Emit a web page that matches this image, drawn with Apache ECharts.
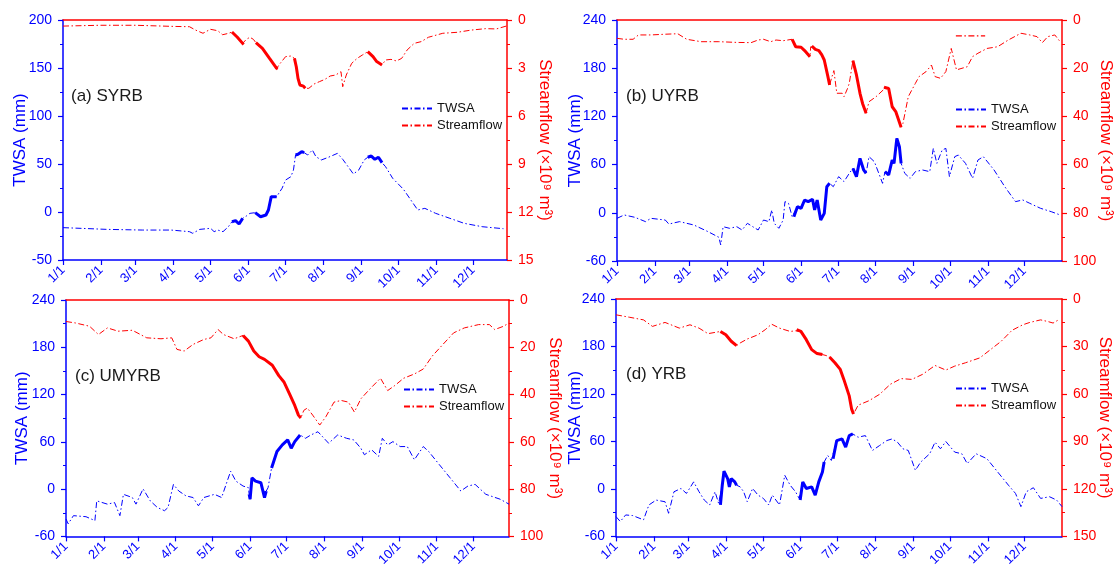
<!DOCTYPE html>
<html>
<head>
<meta charset="utf-8">
<script src="https://cdn.jsdelivr.net/npm/echarts@6/dist/echarts.min.js"></script>
<style>
html,body{margin:0;padding:0;background:#fff;}
#chart{width:1118px;height:569px;}
</style>
</head>
<body>
<div id="chart"></div>
<script>
// ---------- tick labels ----------
const monthDays = [0, 31, 59, 90, 120, 151, 181, 212, 243, 273, 304, 334];
const monthLabels = ['1/1','2/1','3/1','4/1','5/1','6/1','7/1','8/1','9/1','10/1','11/1','12/1'];
const panelTitles = ['(a) SYRB', '(b) UYRB', '(c) UMYRB', '(d) YRB'];
const seriesNames = ['TWSA', 'Streamflow'];

// ---------- (a) SYRB ----------
const syrbFlow = [[0,0.38],[30,0.33],[59,0.33],[90,0.40],[103,0.42],[108,0.63],[114,0.83],[120,0.58],[126,0.67],[130,0.92],[135,0.83],[137.6,0.75],[142,1.08],[146.3,1.46],[147.2,1.52],[149.3,1.21],[152.2,1.08],[155.1,1.21],[157.1,1.42],[162.4,1.77],[168.2,2.40],[174,3.02],[174.9,3.06],[176.9,2.71],[181.3,2.29],[185.6,2.25],[188.5,2.40],[190,2.92],[191.4,3.65],[192.9,4.06],[195.8,4.13],[197.3,4.27],[200.2,4.27],[204.5,4.0],[208.9,3.85],[213.3,3.71],[217.6,3.5],[222,3.44],[226.4,3.23],[227.8,4.17],[230.7,3.44],[235.1,2.71],[239.5,2.40],[243.8,2.19],[248.2,1.98],[252.5,2.29],[255.5,2.60],[259.8,2.81],[262.7,2.5],[267.1,2.46],[271.5,2.56],[275.8,2.40],[280.2,1.88],[286,1.46],[291.8,1.35],[297.6,1.08],[309.3,0.83],[320.9,0.77],[332.6,0.63],[344.2,0.54],[352.9,0.56],[361,0.38]];
const syrbFlowBold = [[137.6,147.2],[157.1,174.9],[188.5,197.3],[248.2,259.8]];
const syrbTwsa = [[0,-16.3],[36,-18.1],[65,-18.8],[88,-18.8],[103,-20.5],[105.6,-22.2],[111.4,-18.1],[120.2,-17],[123.1,-20.5],[126,-18.8],[130.3,-20.5],[134.7,-15.3],[137.6,-10.1],[140.5,-9],[143.4,-12.5],[146.3,-6.6],[149.3,-4.2],[152.2,-1.4],[156.5,-0.7],[160.9,-4.9],[165.3,-3.1],[167.3,2.1],[169.6,16],[174,16],[178.4,24.7],[181.3,33.3],[185.6,36.8],[187.7,43.8],[189.4,59.4],[191.4,60.1],[194.4,62.8],[196.4,61.8],[199.3,59.4],[203.1,64.6],[206,57.6],[210.4,54.2],[216.2,57],[223.5,61.1],[227.8,54.9],[232.2,47.2],[236.5,39.6],[240.9,43.8],[245.3,54.2],[248.2,57],[251.1,58.3],[254,54.9],[256.9,57],[259.8,51.4],[262.7,47.2],[268.5,35.1],[277.3,23.6],[288.9,2.1],[294.7,3.8],[303.5,-1.4],[315.1,-6.6],[326.7,-11.8],[341.3,-15.3],[358.7,-17.4]];
const syrbTwsaBold = [[137.6,146.3],[156.5,174],[189.4,196.4],[248.2,259.8]];

// ---------- (b) UYRB ----------
const uyrbFlow = [[0,7.6],[5.9,8.0],[13.2,8.0],[17.6,6.2],[27.8,6.2],[39.6,5.9],[49.8,5.7],[57.1,8.0],[68.9,9.0],[83.5,9.0],[98.2,9.3],[109.9,9.4],[115.7,8.3],[120.1,8.0],[126,9.0],[130.4,8.3],[136.2,8.6],[143.6,8.0],[146.5,11.1],[150.9,11.3],[153.8,12.7],[158.2,15.2],[158.8,11.1],[159.7,10.8],[162.6,12.2],[165.5,12.7],[167.9,14.5],[169.9,16.6],[172.9,23.5],[174.3,27],[175.8,24.2],[177.8,21],[180.2,30.4],[184.6,30.4],[186.1,31.8],[189,28.4],[190.4,26.3],[193.4,16.9],[196.3,22.8],[199.2,30.4],[201.3,34.6],[204.2,38.7],[206.6,33.9],[212.4,31.8],[218.3,29],[218.9,27.9],[222.7,28.4],[225.6,36],[228.5,38],[232.9,44.5],[234.4,42.9],[238.8,31.8],[244.6,26.3],[247.6,23.5],[253.4,21.4],[257.8,18.7],[260.8,23.5],[265.2,24.2],[269.6,21.4],[274,11.8],[278.3,20.7],[287.1,19.4],[291.5,15.2],[295.9,13.8],[303.3,11.8],[312,11.1],[320.8,8.3],[331.1,5.5],[338.4,6.2],[344.3,6.9],[348.7,9.4],[353.1,6.9],[358.9,6.2],[363.3,9.0]];
const uyrbFlowBold = [[143.6,158.2],[159.7,174.3],[193.4,204.2],[218.9,232.9]];
const uyrbFlowStray = [[277.8,6.6],[301.8,6.6]];
const uyrbTwsa = [[0,-6.9],[5.9,-2.7],[14.6,-5.6],[23.4,-11],[27.8,-6.9],[39.6,-9],[42.5,-14],[51.3,-11],[63,-15.2],[74.7,-23.5],[83.5,-30.5],[85,-40],[87,-17.3],[92.3,-19.3],[98.2,-17.3],[102.5,-21.4],[106.9,-13.1],[111.3,-17.3],[115.7,-21.4],[120.1,-9],[124.5,-11],[126.9,3.5],[128.9,-13.1],[132.7,-19.3],[136.2,-9],[137.7,13.9],[140.6,11.8],[143.6,-4.8],[145,-4.8],[147.9,7.6],[150.9,5.6],[153.8,15.9],[156.8,13.9],[160.3,16.8],[162,3.5],[164.1,15.9],[167,-9],[169.9,-0.7],[172,32.5],[174.3,36.7],[177.3,32.5],[181.7,45],[186.1,38.8],[190.4,49.1],[193.4,55.4],[196.3,45],[199.2,67.8],[202.2,53.3],[204.2,49.1],[206.6,69.9],[211,63.6],[217.7,36.7],[219.7,51.2],[222.7,47.1],[225.6,65.7],[227.1,61.6],[229.4,92.7],[231.5,82.3],[232.9,61.6],[235.9,49.1],[240.3,42.9],[244.6,51.2],[250.5,53.3],[256.4,51.2],[259.3,80.2],[262.2,61.6],[266.6,78.2],[269.6,80.2],[272.5,45],[276.9,69.9],[279.8,71.9],[285.7,61.6],[291.5,42.9],[295.9,65.7],[300.3,69.9],[309.1,53.3],[317.9,32.5],[326.7,13.9],[332.6,16],[338.4,11.8],[347.2,5.6],[356,1.4],[363.3,-2.7]];
const uyrbTwsaBold = [[145,174.3],[193.4,204.2],[219.7,232.9]];

// ---------- (c) UMYRB ----------
const umyrbFlow = [[0,9.1],[7.6,9.7],[19.3,11.1],[26.6,14.6],[34,11.8],[42.7,13.2],[54.4,12.8],[66.2,16],[77.9,16.4],[86.7,16],[91,20.9],[96.9,21.6],[104.2,18.8],[113,16.7],[118.9,16],[124.7,12.5],[129.1,14.6],[137.9,16.4],[145.2,15],[149.6,17.4],[154,21.6],[158.4,24],[162.8,25.1],[169.2,27.6],[174.5,32],[178.9,34.8],[183.3,39.7],[187.6,44.6],[190.6,48.7],[192.6,49.9],[195,46.7],[197.9,45.7],[202.3,48.7],[208.1,52.9],[213.1,49.4],[219.8,43.2],[225.7,42.5],[231.6,43.2],[236.5,47.4],[241.8,41.8],[250.6,36.9],[257.9,33.1],[263.8,38.3],[269.6,36.2],[276.9,33.1],[285.7,31.3],[293,29.2],[300.4,23.7],[309.1,18.8],[317.9,13.9],[326.7,11.8],[338.4,10.4],[347.2,10.4],[351.6,12.5],[358.9,11.1],[363.3,9.7]];
const umyrbFlowBold = [[145.2,192.6]];
const umyrbTwsa = [[0,-37.9],[1.8,-44.1],[6.1,-33.7],[16.4,-35],[23.7,-40],[25.2,-14.9],[34,-19.1],[39.8,-17],[44.2,-33.7],[47.1,-6.6],[54.4,-10.7],[57.4,-19.1],[63.2,0.3],[69.1,-14.9],[74.9,-23.3],[80.8,-27.4],[83.7,-23.3],[88.1,6],[92.5,-2.4],[98.4,-8.6],[104.2,-10.7],[108.6,-21.2],[113,-10.7],[121.8,-6.6],[127.6,-10.7],[135,22.7],[139.3,10.2],[145.2,3.9],[149.6,1.8],[150.2,-6.6],[151,-12.8],[152.5,14.3],[155.4,10.2],[159.8,8.1],[162.8,-10.7],[164.2,-2.4],[165.7,1.8],[168.6,26.9],[173,47.8],[177.4,56.1],[181.8,62.4],[184.7,51.9],[187.6,60.3],[192,68.7],[196.4,64.5],[200.8,68.7],[206.6,72.8],[215.4,58.2],[222.8,68.7],[230.1,64.5],[236,62.4],[241.8,51.9],[244.7,43.6],[250.6,49.9],[256.4,41.5],[259.4,64.5],[263.8,56.1],[268.1,60.3],[274,54],[279.9,54],[285.7,37.3],[293,54],[297.4,47.8],[306.2,31],[315,14.3],[323.8,-2.4],[329.6,3.9],[335.5,6],[344.3,-6.6],[356,-12.8],[363.3,-19.1]];
const umyrbTwsaBold = [[150.2,164.2],[168.6,192]];

// ---------- (d) YRB ----------
const yrbFlow = [[0,10],[10.8,11.5],[22.5,13.2],[29.8,17.3],[40.1,14.8],[51.8,18.4],[60.5,16.3],[67.9,18.4],[75.2,21.9],[85.4,20.5],[89.8,22.6],[94.2,26.7],[98.6,29.5],[101.5,27.8],[107.3,25.3],[116.1,22.6],[122,19.4],[127.2,15.9],[133.7,18.4],[142.4,20.5],[146.8,20.1],[147.7,19.4],[151.2,20.5],[155.6,25.7],[160,32],[164.4,34.5],[168.8,35.1],[171.7,35.7],[174.6,36.6],[179,40.3],[183.4,44.5],[186.3,50.8],[190.7,61.2],[192.7,69.6],[194.2,72.7],[198,67.1],[206.8,64.3],[215.6,60.2],[224.3,53.9],[233.1,50.3],[241.9,50.8],[250.7,47.6],[260.9,42],[269.7,44.9],[277,42.4],[285.8,40.3],[297.5,37.2],[306.2,32],[315,26.7],[323.8,19.8],[332.6,16.3],[338.4,14.8],[347.2,13.2],[353,14.2],[357.4,15.2],[361.8,13.2]];
const yrbFlowBold = [[85.4,98.6],[147.7,168.8],[174.6,194.2]];
const yrbTwsa = [[0,-35],[3.5,-41.2],[7.9,-32.9],[13.7,-33.7],[22.5,-39.1],[26.9,-20.3],[32.8,-14.1],[40.1,-16.2],[43,-30.8],[47.4,-3.6],[53.2,0.6],[57.6,-5.7],[63.5,8.9],[67.9,-3.6],[72.2,-14.1],[76.6,-20.3],[81,-3.6],[83.9,-18.2],[85.4,-20.3],[86.9,4.7],[88.3,22.3],[91.3,13],[92.7,2.5],[94.2,13],[97.1,8.9],[98.6,4.7],[101.5,2.6],[104.4,-3.6],[107.3,-16.2],[111.7,0.6],[116.1,-7.8],[120.5,-12],[124.9,-20.3],[127.8,-7.8],[133.7,-20.3],[138,17.3],[142.4,4.7],[146.8,-3.6],[149.8,-12],[150.6,-14.1],[152.7,8.9],[155.6,0.6],[160,2.6],[162.9,-7.8],[165.8,8.9],[168.8,21.4],[170.2,34],[173.1,42.3],[176.1,36],[177.5,38.2],[180.5,61.1],[184.8,63.2],[187.8,52.8],[190.7,67.4],[193.6,69.5],[198,65.3],[203.9,67.4],[209.7,48.6],[215.6,54.9],[221.4,61.1],[225.8,63.2],[230.2,59],[234.6,50.7],[239,48.6],[244.8,23.5],[249.2,34],[256.5,44.4],[260.9,59],[265.3,50.7],[269.7,59.9],[277,46.5],[282.8,44.4],[287.2,32],[294.5,44.4],[303.3,38.2],[312.1,21.4],[320.9,4.7],[326.7,-5.7],[331.1,-22.4],[335.5,-3.6],[341.3,1.5],[347.2,-12],[354.5,-9.9],[360.3,-14.1],[364.7,-22.4]];
const yrbTwsaBold = [[85.4,98.6],[150.6,170.2],[177.5,193.6]];

// ---------- layout / styles ----------
const BLUE = '#0000ff', RED = '#ff0000';
const FONT = '"Liberation Sans", Arial, sans-serif';
const DASH = [6, 2.5, 1.5, 2.5];

const panels = [
  {title: panelTitles[0], twsa: syrbTwsa, twsaBold: syrbTwsaBold, flow: syrbFlow, flowBold: syrbFlowBold,
   grid: {left: 63, top: 20, width: 444, height: 240}, xMax: 361.6,
   yL: [-50, 200, 50], yR: [0, 15, 3], gapL: 34, gapR: 29.5,
   legend: {left: 401, top: 102}, label: {left: 71, top: 88}},
  {title: panelTitles[1], twsa: uyrbTwsa, twsaBold: uyrbTwsaBold, flow: uyrbFlow, flowBold: uyrbFlowBold, stray: uyrbFlowStray,
   grid: {left: 617, top: 20, width: 445, height: 241}, xMax: 364.8,
   yL: [-60, 240, 60], yR: [0, 100, 20], gapL: 33.5, gapR: 35,
   legend: {left: 955, top: 103}, label: {left: 626, top: 88}},
  {title: panelTitles[2], twsa: umyrbTwsa, twsaBold: umyrbTwsaBold, flow: umyrbFlow, flowBold: umyrbFlowBold,
   grid: {left: 66, top: 300, width: 443, height: 239}, xMax: 363.3,
   yL: [-60, 240, 60], yR: [0, 100, 20], gapL: 35, gapR: 37,
   legend: {left: 403, top: 383}, label: {left: 75, top: 368}},
  {title: panelTitles[3], twsa: yrbTwsa, twsaBold: yrbTwsaBold, flow: yrbFlow, flowBold: yrbFlowBold,
   grid: {left: 616, top: 299, width: 446, height: 239}, xMax: 364.7,
   yL: [-60, 240, 60], yR: [0, 150, 30], gapL: 32, gapR: 34.5,
   legend: {left: 955, top: 382}, label: {left: 626, top: 366}}
];

function boldData(points, spans) {
  const out = [];
  spans.forEach((s, k) => {
    if (k > 0) out.push([(spans[k-1][1] + s[0]) / 2, null]);
    points.forEach(p => { if (p[0] >= s[0] - 1e-6 && p[0] <= s[1] + 1e-6) out.push(p); });
  });
  return out;
}

const option = {
  animation: false,
  textStyle: {fontFamily: FONT},
  grid: [], xAxis: [], yAxis: [], series: [], legend: [], graphic: []
};

panels.forEach((p, i) => {
  option.grid.push(Object.assign({containLabel: false}, p.grid));
  option.xAxis.push({
    gridIndex: i, type: 'value', position: 'bottom', min: 0, max: p.xMax,
    axisLine: {show: true, onZero: false, lineStyle: {color: BLUE, width: 1.5}},
    axisTick: {show: true, length: 5, customValues: monthDays, lineStyle: {color: BLUE, width: 1.2}},
    axisLabel: {show: true, customValues: monthDays, rotate: 45, margin: 8, color: BLUE, fontSize: 13, fontFamily: FONT,
      formatter: v => monthLabels[monthDays.indexOf(Math.round(v))] || ''},
    splitLine: {show: false}
  });
  option.xAxis.push({
    gridIndex: i, type: 'value', position: 'top', min: 0, max: p.xMax,
    axisLine: {show: true, onZero: false, lineStyle: {color: RED, width: 1.5}},
    axisTick: {show: false}, axisLabel: {show: false}, splitLine: {show: false}
  });
  option.yAxis.push({
    gridIndex: i, type: 'value', position: 'left', min: p.yL[0], max: p.yL[1], interval: p.yL[2],
    axisLine: {show: true, onZero: false, lineStyle: {color: BLUE, width: 1.5}},
    axisTick: {show: true, length: 5, lineStyle: {color: BLUE, width: 1.2}},
    minorTick: {show: true, splitNumber: 2, length: 3, lineStyle: {color: BLUE, width: 1}},
    axisLabel: {color: BLUE, fontSize: 14, margin: 11, fontFamily: FONT},
    splitLine: {show: false},
    name: 'TWSA (mm)', nameLocation: 'middle', nameGap: p.gapL, nameRotate: 90, nameMoveOverlap: false,
    nameTextStyle: {color: BLUE, fontSize: 17, fontFamily: FONT}
  });
  option.yAxis.push({
    gridIndex: i, type: 'value', position: 'right', inverse: true, min: p.yR[0], max: p.yR[1], interval: p.yR[2],
    axisLine: {show: true, onZero: false, lineStyle: {color: RED, width: 1.5}},
    axisTick: {show: true, length: 5, lineStyle: {color: RED, width: 1.2}},
    minorTick: {show: true, splitNumber: 2, length: 3, lineStyle: {color: RED, width: 1}},
    axisLabel: {color: RED, fontSize: 14, margin: 11, fontFamily: FONT},
    splitLine: {show: false},
    name: 'Streamflow (×10⁹ m³)', nameLocation: 'middle', nameGap: p.gapR, nameRotate: -90, nameMoveOverlap: false,
    nameTextStyle: {color: RED, fontSize: 17, fontFamily: FONT}
  });
  const xi = 2 * i, yl = 2 * i, yr = 2 * i + 1;
  // unique internal names per panel; the legend formatter shows the plain name
  const nT = seriesNames[0] + '#' + i, nS = seriesNames[1] + '#' + i;
  option.series.push({
    name: nT, type: 'line', xAxisIndex: xi, yAxisIndex: yl, data: p.twsa,
    symbol: 'none', color: BLUE, lineStyle: {color: BLUE, width: 1, type: DASH}, z: 2
  });
  option.series.push({
    name: nS, type: 'line', xAxisIndex: xi, yAxisIndex: yr, data: p.flow,
    symbol: 'none', color: RED, lineStyle: {color: RED, width: 1, type: DASH}, z: 2
  });
  if (p.stray) {
    option.series.push({
      name: 'extra#' + i, type: 'line', xAxisIndex: xi, yAxisIndex: yr, data: p.stray,
      symbol: 'none', color: RED, lineStyle: {color: RED, width: 1.2, type: DASH}, z: 2
    });
  }
  option.series.push({
    name: 'boldT#' + i, type: 'line', xAxisIndex: xi, yAxisIndex: yl, data: boldData(p.twsa, p.twsaBold),
    symbol: 'none', connectNulls: false, color: BLUE, lineStyle: {color: BLUE, width: 3, type: 'solid'}, z: 3
  });
  option.series.push({
    name: 'boldS#' + i, type: 'line', xAxisIndex: xi, yAxisIndex: yr, data: boldData(p.flow, p.flowBold),
    symbol: 'none', connectNulls: false, color: RED, lineStyle: {color: RED, width: 3, type: 'solid'}, z: 3
  });
  option.legend.push({
    left: p.legend.left, top: p.legend.top, orient: 'vertical', padding: 0,
    data: [nT, nS],
    formatter: n => n.split('#')[0],
    itemWidth: 30, itemHeight: 12, itemGap: 4,
    itemStyle: {opacity: 0},
    selectedMode: false, textStyle: {fontSize: 13, color: '#111', fontFamily: FONT}
  });
  option.graphic.push({
    type: 'text', left: p.label.left, top: p.label.top,
    style: {text: p.title, fontSize: 17, fill: '#1a1a1a', font: '17px ' + FONT}
  });
});

const chart = echarts.init(document.getElementById('chart'), null, {renderer: 'canvas'});
chart.setOption(option);
</script>
</body>
</html>
